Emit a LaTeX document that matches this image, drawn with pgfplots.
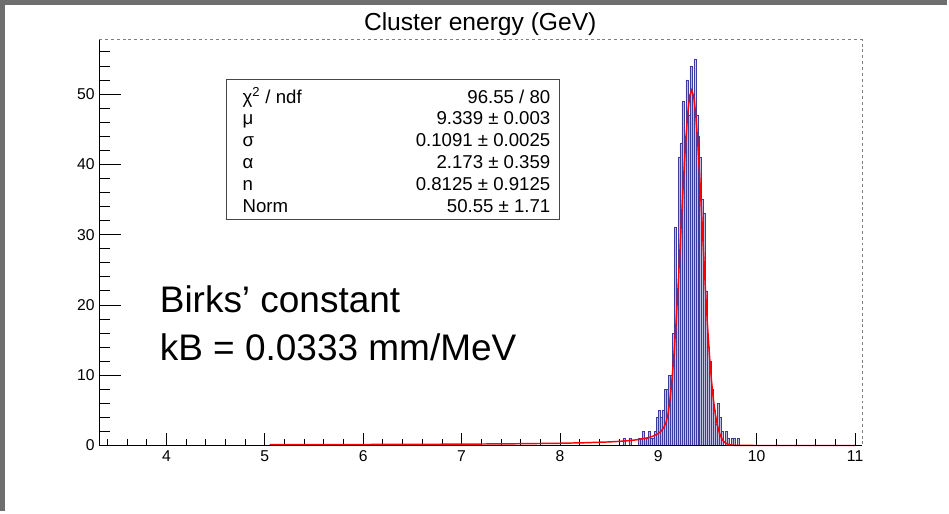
\documentclass[border=0pt]{standalone}
\usepackage{fontspec}
\setmainfont{Liberation Sans}
\usepackage{pgfplots}
\pgfplotsset{compat=1.18}
\definecolor{histline}{RGB}{60,60,158}
\definecolor{histfill}{RGB}{192,192,222}
\definecolor{framegray}{RGB}{110,110,110}
\begin{document}
\begin{tikzpicture}
\fill[white] (0,0) rectangle (711.75pt,384pt);
\pgfplotsset{rootaxis/.style={
  at={(74.6pt,49pt)}, anchor=south west, scale only axis,
  width=573.6pt, height=305pt,
  xmin=3.317, xmax=11.07, ymin=0, ymax=57.7,
  axis line style={draw=none}, tick align=inside, tick pos=left,
  tick style={black, line width=0.55pt},
  /pgf/number format/assume math mode=true,
  ticklabel style={font=\fontsize{11.8}{13}\selectfont},
  xticklabel style={text height=8.5pt, text depth=0pt},
}}
% histogram + fit, x ticks
\begin{axis}[rootaxis, xtick={4,...,11}, minor xtick={3.4,3.6,...,11},
  ytick=\empty, major tick length=9.2pt, minor tick length=4.6pt, clip=false]
\addplot[ybar interval, fill=histfill, draw=histline, line width=0.25pt] coordinates {
(8.60,0) (8.62,0) (8.64,1) (8.66,0) (8.68,0) (8.70,1) (8.72,0) (8.74,0)
(8.76,0) (8.78,0) (8.80,1) (8.82,1) (8.84,2) (8.86,1) (8.88,1) (8.90,2)
(8.92,1) (8.94,1) (8.96,2) (8.98,4) (9.00,5) (9.02,4) (9.04,5) (9.06,8)
(9.08,8) (9.10,10) (9.12,10) (9.14,16) (9.16,31) (9.18,22) (9.20,41) (9.22,43)
(9.24,49) (9.26,44) (9.28,52) (9.30,47) (9.32,54) (9.34,50) (9.36,55) (9.38,47)
(9.40,44) (9.42,41) (9.44,35) (9.46,33) (9.48,22) (9.50,14) (9.52,12) (9.54,8)
(9.56,5) (9.58,3) (9.60,6) (9.62,4) (9.64,2) (9.66,0) (9.68,2) (9.70,1)
(9.72,0) (9.74,1) (9.76,1) (9.78,0) (9.80,1) (9.82,0)
};
\addplot[red, line width=1.1pt] coordinates {
(5.05,0.113) (5.5,0.124) (6.0,0.140) (6.5,0.161) (7.0,0.191) (7.5,0.237)
(8.0,0.318) (8.25,0.388) (8.5,0.507) (8.6,0.582) (8.7,0.687) (8.8,0.845)
(8.9,1.119) (8.95,1.349) (9.00,1.723) (9.02,1.947) (9.04,2.250) (9.06,2.684)
(9.08,3.36) (9.10,4.59) (9.12,6.74) (9.14,9.57) (9.16,13.16) (9.18,17.48)
(9.20,22.45) (9.22,27.89) (9.24,33.50) (9.26,38.89) (9.28,43.68) (9.30,47.42)
(9.32,49.79) (9.339,50.55) (9.36,49.62) (9.38,47.10) (9.40,43.24) (9.42,38.37)
(9.44,32.93) (9.46,27.33) (9.48,21.93) (9.50,17.01) (9.52,12.77) (9.54,9.26)
(9.56,6.49) (9.58,4.41) (9.60,2.89) (9.62,1.83) (9.64,1.12) (9.66,0.667)
(9.68,0.382) (9.70,0.212) (9.74,0.059) (9.80,0.006) (10.0,0) (11.0,0)
};
\end{axis}
% y ticks (longer, as in ROOT)
\begin{axis}[rootaxis, xtick=\empty, ytick={0,10,...,50}, minor ytick={2,4,...,56},
  major tick length=16.5pt, minor tick length=8.2pt]
\end{axis}
\begin{scope}[yshift=384pt, x=0.75pt, y=-0.75pt]
  % frame of the plot
  \draw[black, line width=0.6pt] (99.5,40) -- (99.5,446.7) -- (864.3,446.7);
  \draw[gray, line width=0.6pt, dash pattern=on 2.2pt off 2.2pt] (99.5,40) -- (864.3,40) -- (864.3,446.7);
  % canvas border
  \draw[framegray, line width=3.75pt] (2.5,512) -- (2.5,2.5) -- (949,2.5);
  % title
  \node[anchor=base, inner sep=0pt, font=\fontsize{18.5}{22}\selectfont] at (481.5,31) {Cluster energy (GeV)};
  % stats box
  \draw[fill=white, draw={rgb,255:red,70;green,70;blue,70}, line width=0.7pt] (227.3,80) rectangle (560.7,220);
  \begin{scope}[every node/.style={inner sep=0pt, font=\fontsize{14}{16}\selectfont}]
    \node[anchor=base west] at (243,103.3) {χ\textsuperscript{2} / ndf};
    \node[anchor=base east] at (552,103.3) {96.55 / 80};
    \node[anchor=base west] at (243,125.2) {μ};
    \node[anchor=base east] at (552,125.2) {9.339 ± 0.003};
    \node[anchor=base west] at (243,147.1) {σ};
    \node[anchor=base east] at (552,147.1) {0.1091 ± 0.0025};
    \node[anchor=base west] at (243,169.0) {α};
    \node[anchor=base east] at (552,169.0) {2.173 ± 0.359};
    \node[anchor=base west] at (243,190.8) {n};
    \node[anchor=base east] at (552,190.8) {0.8125 ± 0.9125};
    \node[anchor=base west] at (243,212.7) {Norm};
    \node[anchor=base east] at (552,212.7) {50.55 ± 1.71};
  \end{scope}
  % annotation
  \node[anchor=base west, inner sep=0pt, font=\fontsize{27.8}{32}\selectfont] at (160,313) {Birks’ constant};
  \node[anchor=base west, inner sep=0pt, font=\fontsize{27.8}{32}\selectfont] at (160,361) {kB = 0.0333 mm/MeV};
\end{scope}
\end{tikzpicture}
\end{document}
